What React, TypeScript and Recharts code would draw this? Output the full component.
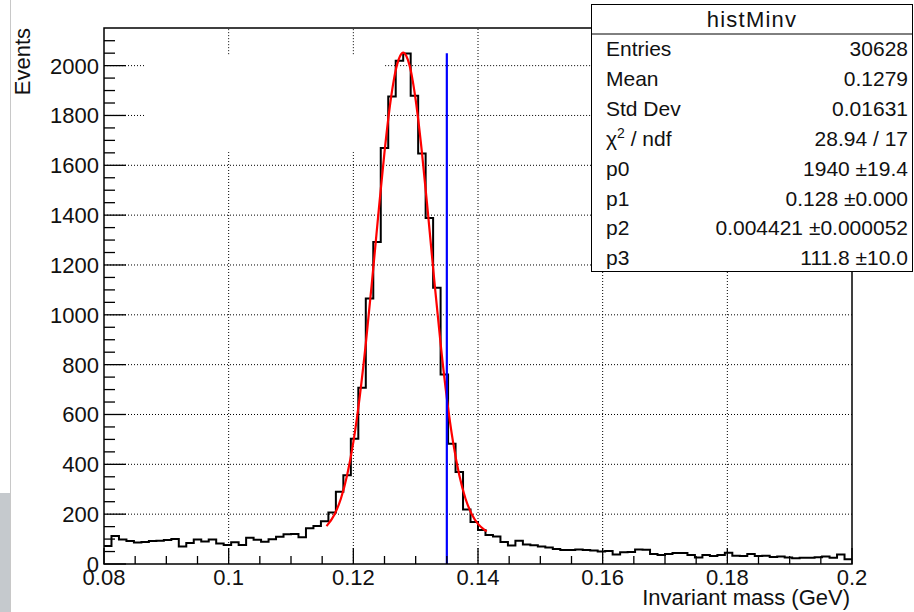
import React from "react";
import { ComposedChart, Line, XAxis, YAxis, ReferenceLine } from "recharts";

const FONT = '"Liberation Sans", Arial, Helvetica, sans-serif';

// histMinv: 100 bins from 0.08 to 0.2 GeV
const BIN_START = 0.08;
const BIN_WIDTH = 0.0012;
const counts = [
  72, 112, 98, 92, 86, 88, 92, 93, 96, 100,
  70, 84, 98, 90, 98, 82, 76, 87, 76, 105,
  97, 89, 99, 109, 119, 120, 107, 143, 152, 172,
  207, 290, 356, 503, 707, 1065, 1292, 1669, 1876, 2020,
  2049, 1879, 1647, 1389, 1109, 760, 483, 369, 219, 169,
  136, 116, 110, 88, 74, 93, 78, 75, 70, 66,
  60, 56, 56, 58, 56, 54, 50, 52, 38, 47,
  48, 58, 57, 40, 36, 40, 44, 44, 36, 26,
  36, 32, 36, 45, 33, 32, 40, 32, 33, 28,
  30, 26, 23, 25, 25, 27, 30, 25, 38, 19,
];

// gaus + pol0 fit curve
const fitMass = [
  0.1157, 0.117, 0.118, 0.119, 0.12, 0.121, 0.122, 0.123, 0.124, 0.125,
  0.126, 0.1265, 0.127, 0.1275, 0.128, 0.1285, 0.129, 0.1295, 0.13, 0.131,
  0.132, 0.133, 0.134, 0.135, 0.136, 0.137, 0.138, 0.139, 0.14, 0.141, 0.1414,
];
const fitEvents = [
  152, 200, 262, 356, 489, 666, 884, 1135, 1400, 1653,
  1863, 1943, 2003, 2039, 2052, 2039, 2003, 1943, 1863, 1653,
  1400, 1135, 884, 666, 489, 356, 262, 200, 161, 138, 131,
];

const PI0_MASS = 0.135;
const PI0_LINE_TOP = 2050;

const X_MIN = 0.08;
const X_MAX = 0.2;
const Y_MAX = 2151;

const xTicks = [
  0.08, 0.085, 0.09, 0.095, 0.1, 0.105, 0.11, 0.115, 0.12, 0.125, 0.13, 0.135,
  0.14, 0.145, 0.15, 0.155, 0.16, 0.165, 0.17, 0.175, 0.18, 0.185, 0.19, 0.195, 0.2,
];
const yTicks = [
  0, 50, 100, 150, 200, 250, 300, 350, 400, 450, 500, 550, 600, 650, 700, 750,
  800, 850, 900, 950, 1000, 1050, 1100, 1150, 1200, 1250, 1300, 1350, 1400, 1450,
  1500, 1550, 1600, 1650, 1700, 1750, 1800, 1850, 1900, 1950, 2000, 2050, 2100,
];
const gridX = [0.1, 0.12, 0.14, 0.16, 0.18];
const gridY = [200, 400, 600, 800, 1000, 1200, 1400, 1600, 1800, 2000];

// empty pave sitting over the upper-left part of the pad
const blank = { x1: 0.0867, x2: 0.1251, y1: 1653, y2: 2046 };

const statLabels = ["Entries", "Mean", "Std Dev", "chi2", "p0", "p1", "p2", "p3"];
const statValues = [
  "30628",
  "0.1279",
  "0.01631",
  "28.94 / 17",
  "1940 \u00b119.4",
  "0.128 \u00b10.000",
  "0.004421 \u00b10.000052",
  "111.8 \u00b110.0",
];

const histData = [
  ...counts.map((c, i) => ({ x: BIN_START + i * BIN_WIDTH, y: c })),
  { x: X_MAX, y: counts[counts.length - 1] },
];
const fitData = fitMass.map((m, i) => ({ x: m, y: fitEvents[i] }));

function XTick(props: any) {
  const { x, y, payload } = props;
  const v = payload.value as number;
  const major = Math.abs(v / 0.02 - Math.round(v / 0.02)) < 1e-6;
  return (
    <g>
      <line x1={x} y1={y} x2={x} y2={y - (major ? 16 : 8)} stroke="#000" strokeWidth={1.3} />
      {major && (
        <text x={x} y={y + 21} textAnchor="middle" fontSize={22} fontFamily={FONT} fill="#111">
          {String(+v.toFixed(2))}
        </text>
      )}
    </g>
  );
}

function YTick(props: any) {
  const { x, y, payload } = props;
  const v = payload.value as number;
  const major = v % 200 === 0;
  return (
    <g>
      <line x1={x} y1={y} x2={x + (major ? 22 : 11)} y2={y} stroke="#000" strokeWidth={1.3} />
      {major && (
        <text x={x - 5} y={y + 8} textAnchor="end" fontSize={22} fontFamily={FONT} fill="#111">
          {v}
        </text>
      )}
    </g>
  );
}

function XTitle(props: any) {
  const vb = props.viewBox || { x: 104, y: 564, width: 748 };
  return (
    <text x={vb.x + vb.width - 2} y={vb.y + 41} textAnchor="end" fontSize={22} fontFamily={FONT} fill="#111">
      Invariant mass (GeV)
    </text>
  );
}

function YTitle(props: any) {
  const vb = props.viewBox || { x: 44, y: 28 };
  const x = vb.x - 14;
  const y = vb.y;
  return (
    <text x={x} y={y} transform={`rotate(-90, ${x}, ${y})`} textAnchor="end" fontSize={22} fontFamily={FONT} fill="#111">
      Events
    </text>
  );
}

function gridSegments() {
  const lines: React.ReactNode[] = [];
  const style = { stroke: "#000", strokeWidth: 1, strokeDasharray: "1 2" };
  gridX.forEach((v) => {
    const parts =
      v > blank.x1 && v < blank.x2
        ? [[0, blank.y1], [blank.y2, Y_MAX]]
        : [[0, Y_MAX]];
    parts.forEach(([a, b], j) =>
      lines.push(
        <ReferenceLine key={`gx${v}-${j}`} segment={[{ x: v, y: a }, { x: v, y: b }]} ifOverflow="hidden" {...style} />
      )
    );
  });
  gridY.forEach((h) => {
    const parts =
      h > blank.y1 && h < blank.y2
        ? [[X_MIN, blank.x1], [blank.x2, X_MAX]]
        : [[X_MIN, X_MAX]];
    parts.forEach(([a, b], j) =>
      lines.push(
        <ReferenceLine key={`gy${h}-${j}`} segment={[{ x: a, y: h }, { x: b, y: h }]} ifOverflow="hidden" {...style} />
      )
    );
  });
  return lines;
}

function StatsBox() {
  return (
    <svg width={323} height={269} style={{ position: "absolute", left: 591, top: 4 }}>
      <rect x={0.5} y={0.5} width={321} height={267} fill="#fff" stroke="#000" strokeWidth={1} />
      <line x1={0} y1={30} x2={322} y2={30} stroke="#000" strokeWidth={1} />
      <text x={161} y={23} textAnchor="middle" fontSize={22} letterSpacing={1.2} fontFamily={FONT} fill="#111">
        histMinv
      </text>
      {statLabels.map((label, i) => {
        const y = 52 + i * 29.9;
        return (
          <g key={label}>
            <text x={15} y={y} fontSize={21} fontFamily={FONT} fill="#111">
              {label === "chi2" ? (
                <>
                  {"\u03c7"}
                  <tspan dy={-8} fontSize={14}>2</tspan>
                  <tspan dy={8}>{" / ndf"}</tspan>
                </>
              ) : (
                label
              )}
            </text>
            <text x={317} y={y} textAnchor="end" fontSize={21} fontFamily={FONT} fill="#111">
              {statValues[i]}
            </text>
          </g>
        );
      })}
    </svg>
  );
}

export default function App() {
  return (
    <div
      style={{
        position: "fixed",
        left: 0,
        top: 0,
        width: 914,
        height: 612,
        background: "#fff",
        overflow: "hidden",
        fontFamily: FONT,
      }}
    >
      <div style={{ position: "absolute", left: 10, top: 0, width: 1, height: 612, background: "#c8c8c8" }} />
      <div style={{ position: "absolute", left: 0, top: 493, width: 10, height: 119, background: "#c5c9cd" }} />
      <ComposedChart width={914} height={612} margin={{ top: 28, right: 62, bottom: 18, left: 44 }}>
        <XAxis
          type="number"
          dataKey="x"
          domain={[X_MIN, X_MAX]}
          allowDataOverflow
          ticks={xTicks}
          interval={0}
          tick={<XTick />}
          tickSize={0}
          tickMargin={0}
          tickLine={false}
          axisLine={false}
          height={30}
          label={<XTitle />}
        />
        <YAxis
          type="number"
          domain={[0, Y_MAX]}
          allowDataOverflow
          ticks={yTicks}
          interval={0}
          tick={<YTick />}
          tickSize={0}
          tickMargin={0}
          tickLine={false}
          axisLine={false}
          width={60}
          label={<YTitle />}
        />
        {gridSegments()}
        <Line
          data={histData}
          dataKey="y"
          type="stepAfter"
          stroke="#000"
          strokeWidth={2}
          dot={false}
          activeDot={false}
          isAnimationActive={false}
        />
        <Line
          data={fitData}
          dataKey="y"
          type="monotone"
          stroke="#ff0000"
          strokeWidth={2.2}
          dot={false}
          activeDot={false}
          isAnimationActive={false}
        />
        <ReferenceLine
          segment={[{ x: PI0_MASS, y: 0 }, { x: PI0_MASS, y: PI0_LINE_TOP }]}
          stroke="#0000ff"
          strokeWidth={2.2}
          ifOverflow="hidden"
        />
      </ComposedChart>
      <svg width={914} height={612} style={{ position: "absolute", left: 0, top: 0, pointerEvents: "none" }}>
        <rect x={104} y={28} width={748} height={536} fill="none" stroke="#000" strokeWidth={1.5} />
      </svg>
      <StatsBox />
    </div>
  );
}
